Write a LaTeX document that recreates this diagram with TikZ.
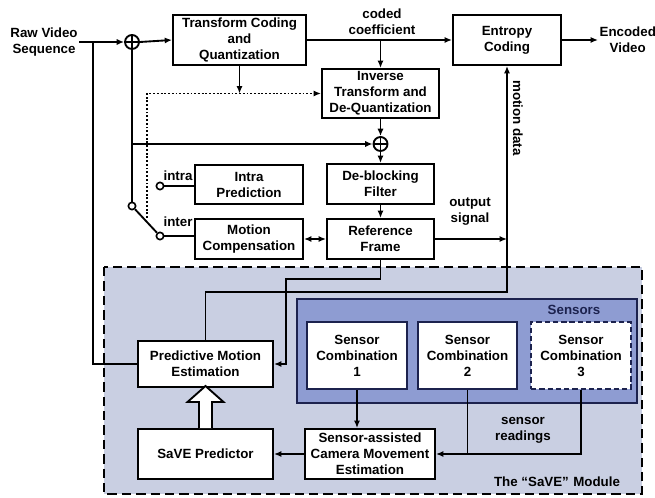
\documentclass[tikz,border=0pt]{standalone}
\usepackage{fontspec}
\setmainfont{Liberation Sans}
\usetikzlibrary{arrows.meta,calc}

\definecolor{modbg}{RGB}{201,207,226}
\definecolor{sensbg}{RGB}{142,156,210}
\definecolor{navy}{RGB}{28,34,78}

\begin{document}
\begin{tikzpicture}[x=0.75pt,y=-0.75pt,
  txt/.style={font=\bfseries\fontsize{10}{12}\selectfont},
  blk/.style={txt, draw=black, line width=1.5pt, fill=white, inner sep=0pt, align=center},
  sz/.style 2 args={minimum width=#1*0.75pt, minimum height=#2*0.75pt},
  lbl/.style={txt, align=center, inner sep=1pt},
  wire/.style={line width=1.4pt},
  tip/.style={-{Latex[length=5.5pt,width=4.6pt]}},
  arr/.style={wire, tip},
  darr/.style={wire, {Latex[length=5.5pt,width=4.6pt]}-{Latex[length=5.5pt,width=4.6pt]}},
  dotwire/.style={line width=1.4pt, dash pattern=on 1.4pt off 1.4pt},
  summer/.style={circle, draw, line width=1.4pt, fill=white, minimum size=10.5pt, inner sep=0pt,
    path picture={\draw[line width=1.2pt] (path picture bounding box.north) -- (path picture bounding box.south)
      (path picture bounding box.west) -- (path picture bounding box.east);}},
  term/.style={circle, draw, line width=1.2pt, fill=white, minimum size=5.5pt, inner sep=0pt}]

\useasboundingbox (0,0) rectangle (655,498);

% SaVE module area and sensor group
\draw[fill=modbg, line width=1.7pt, dash pattern=on 7pt off 3.8pt] (104,267) rectangle (642,494);
\draw[fill=sensbg, draw=navy, line width=1.4pt] (297,299) rectangle (637,403);

% encoder blocks
\node[blk, sz={133}{50}] (tcq) at (239.5,40) {Transform Coding\\and\\Quantization};
\node[blk, sz={108}{50}] (ent) at (507,40) {Entropy\\Coding};
\node[blk, sz={117}{49}] (inv) at (380.5,93.5) {Inverse\\Transform and\\De-Quantization};
\node[blk, sz={107}{40}] (dbf) at (380.5,184) {De-blocking\\Filter};
\node[blk, sz={107}{40}] (rf) at (380.5,239) {Reference\\Frame};
\node[blk, sz={108}{39}] (intra) at (249,184.5) {Intra\\Prediction};
\node[blk, sz={108}{40}] (mc) at (249,239) {Motion\\Compensation};

% SaVE module blocks
\node[blk, sz={135}{46}] (pme) at (205.5,364) {Predictive Motion\\Estimation};
\node[blk, sz={135}{50}] (save) at (205.5,454) {SaVE Predictor};
\node[blk, sz={130}{50}] (scme) at (370,454) {Sensor-assisted\\Camera Movement\\Estimation};
\node[blk, draw=navy, sz={100}{67}] (sc1) at (357,355.5) {Sensor\\Combination\\1};
\node[blk, draw=navy, sz={99}{67}] (sc2) at (467.5,355.5) {Sensor\\Combination\\2};
\node[blk, draw=navy, dash pattern=on 4pt off 2.2pt, sz={100}{67}] (sc3) at (581,355.5) {Sensor\\Combination\\3};

% adders and mode switch
\node[summer] (sum1) at (132,42) {};
\node[summer] (sum2) at (380.5,144) {};
\node[term] (piv) at (132,206) {};
\node[term] (tintra) at (160,186) {};
\node[term] (tinter) at (160,236) {};

% labels
\node[lbl] (raw) at (44,42) {Raw Video\\Sequence};
\node[lbl, anchor=west] (enc) at (598,40) {Encoded\\Video};
\node[lbl] (cc) at (382,22) {coded\\coefficient};
\node[lbl, rotate=-90] (md) at (518,118) {motion data};
\node[lbl] (os) at (470,212) {output\\signal};
\node[lbl] (lintra) at (178,176) {intra};
\node[lbl] (linter) at (178,222) {inter};
\node[lbl, text=navy] (lsens) at (574,310) {Sensors};
\node[lbl] (lread) at (523,430) {sensor\\readings};
\node[lbl] (lmod) at (557,482) {The “SaVE”\,\,Module};

% junction points
\coordinate (j1) at (93,42);
\coordinate (j2) at (sum1 |- sum2);
\coordinate (dotS) at (147,218);
\coordinate (mdk) at (ent.south |- 0,292);
\coordinate (rfk) at (286,279);

% forward path
\draw[arr] (raw.east) -- (sum1.west);
\draw[wire] (j1) |- (pme.west);
\draw[arr] (sum1.east) -- (tcq.west);
\draw[arr] (tcq.east) -- (ent.west);
\draw[arr] (ent.east) -- (enc.west);
\draw[arr] (inv.north |- tcq.east) -- (inv.north);
\draw[arr] (tcq.south) -- (tcq.south |- inv.west);
\draw[dotwire, tip] (dotS) |- (inv.west);

% reconstruction loop
\draw[arr] (inv.south) -- (sum2.north);
\draw[arr] (sum2.south) -- (dbf.north);
\draw[arr] (dbf.south) -- (rf.north);
\draw[darr] (mc.east) -- (rf.west);
\draw[arr] (rf.east) -- (ent.south |- rf.east);
\draw[wire] (sum1.south) -- (piv.north);
\draw[arr] (j2) -- (sum2.west);
\draw[wire] (piv) -- (tinter);
\draw[wire] (tintra) -- (tintra -| intra.west);
\draw[wire] (tinter) -- (tinter -| mc.west);

% motion estimation links
\draw[arr] (pme.north) |- (mdk) -- (ent.south);
\draw[arr] (rf.south) |- (rfk) |- (pme.east);

% sensor links
\draw[arr] (sc1.south) -- (sc1.south |- scme.north);
\draw[arr] (sc2.south) |- (scme.east);
\draw[wire] (sc3.south) |- (sc2.south |- scme.east);
\draw[arr] (scme.west) -- (save.east);

% hollow arrow from the SaVE predictor into motion estimation
\draw[line width=1.4pt, fill=white]
  ($(save.north)+(-6.5,0)$) -- ($(save.north)+(-6.5,-26)$) -- ($(save.north)+(-18,-26)$)
  -- ($(save.north)+(0,-42)$) -- ($(save.north)+(18,-26)$) -- ($(save.north)+(6.5,-26)$)
  -- ($(save.north)+(6.5,0)$);
\end{tikzpicture}
\end{document}
